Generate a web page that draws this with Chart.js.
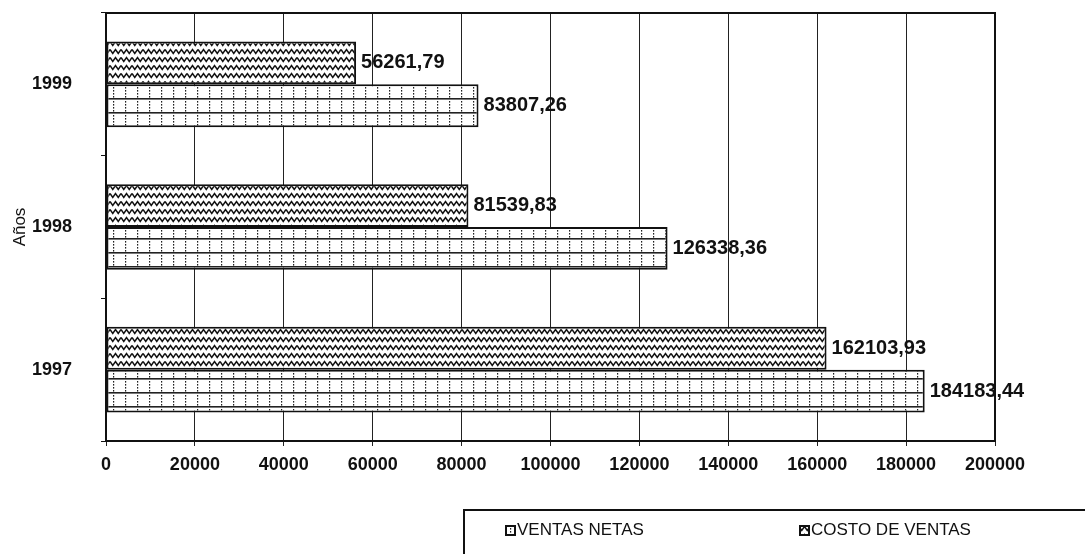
<!DOCTYPE html>
<html>
<head>
<meta charset="utf-8">
<script src="https://cdn.jsdelivr.net/npm/chart.js@4"></script>
<style>
  html, body { margin: 0; padding: 0; background: #fff; }
  #wrap { position: relative; width: 1085px; height: 554px; }
  #legend {
    position: absolute; left: 463px; top: 509px; width: 640px; height: 60px;
    border: 2px solid #111; box-sizing: border-box;
    font: 17px "Liberation Sans", Arial, sans-serif; color: #111;
  }
  #legend .item { position: absolute; top: 9px; display: flex; align-items: center; }
  #legend canvas { margin-right: 1px; }
</style>
</head>
<body>
<div id="wrap">
  <canvas id="chart" width="1085" height="554"></canvas>
  <div id="legend"></div>
</div>
<script>
// years, top to bottom
const years = ['1999', '1998', '1997'];
const ventasNetas = [83807.26, 126338.36, 184183.44];
const costoVentas = [56261.79, 81539.83, 162103.93];
const xTicks = [0, 20000, 40000, 60000, 80000, 100000, 120000, 140000, 160000, 180000, 200000];

// wavy fill for cost bars
function wavePattern(ctx) {
  const c = document.createElement('canvas');
  c.width = 11; c.height = 8;
  const g = c.getContext('2d');
  g.fillStyle = '#fff';
  g.fillRect(0, 0, 11, 8);
  g.strokeStyle = '#111';
  g.lineWidth = 1.5;
  g.beginPath();
  g.moveTo(0, 1.5);
  g.lineTo(2.75, 5.5);
  g.lineTo(5.5, 1.5);
  g.lineTo(8.25, 5.5);
  g.lineTo(11, 1.5);
  g.stroke();
  return ctx.createPattern(c, 'repeat');
}

// grid fill for net sales bars
function gridPattern(ctx) {
  const c = document.createElement('canvas');
  c.width = 12; c.height = 14;
  const g = c.getContext('2d');
  g.fillStyle = '#fff';
  g.fillRect(0, 0, 12, 14);
  g.fillStyle = '#222';
  g.fillRect(0, 0, 12, 1.6);
  for (let y = 3; y < 13; y += 3) g.fillRect(5, y, 1.2, 1.6);
  return ctx.createPattern(c, 'repeat');
}

const canvas = document.getElementById('chart');
const ctx = canvas.getContext('2d');
const fmt = v => v.toFixed(2).replace('.', ',');
const font = '"Liberation Sans", Arial, sans-serif';

// value labels at bar ends
const valueLabels = {
  id: 'valueLabels',
  afterDatasetsDraw(chart) {
    const c = chart.ctx;
    c.save();
    c.font = 'bold 20px ' + font;
    c.fillStyle = '#111';
    c.textBaseline = 'middle';
    chart.data.datasets.forEach((ds, i) => {
      chart.getDatasetMeta(i).data.forEach((bar, j) => {
        c.fillText(fmt(ds.data[j]), bar.x + 5, bar.y);
      });
    });
    c.restore();
  }
};

// box around the plot area
const frame = {
  id: 'frame',
  afterDraw(chart) {
    const a = chart.chartArea, c = chart.ctx;
    c.save();
    c.strokeStyle = '#111';
    c.lineWidth = 2;
    c.strokeRect(a.left, a.top, a.right - a.left, a.bottom - a.top);
    c.restore();
  }
};

const chart = new Chart(canvas, {
  type: 'bar',
  data: {
    labels: years,
    datasets: [
      { label: 'COSTO DE VENTAS', data: costoVentas, backgroundColor: wavePattern(ctx),
        borderColor: '#111', borderWidth: 2, borderSkipped: false },
      { label: 'VENTAS NETAS', data: ventasNetas, backgroundColor: gridPattern(ctx),
        borderColor: '#111', borderWidth: 2, borderSkipped: false }
    ]
  },
  options: {
    indexAxis: 'y',
    responsive: false,
    animation: false,
    categoryPercentage: 0.6,
    barPercentage: 1.0,
    layout: { padding: { left: 0, top: 13, right: 90, bottom: 73 } },
    plugins: { legend: { display: false }, tooltip: { enabled: false } },
    scales: {
      x: {
        min: 0, max: 200000,
        afterBuildTicks(axis) { axis.ticks = xTicks.map(v => ({ value: v })); },
        afterFit(axis) { axis.height = 40; },
        border: { color: '#111', width: 2 },
        grid: { color: '#222', lineWidth: 1, tickLength: 5, borderDash: [7, 2] },
        ticks: { color: '#111', padding: 8, maxRotation: 0,
          callback: v => String(v),
          font: { family: font, size: 18, weight: 'bold' } }
      },
      y: {
        afterFit(axis) {
          axis.width = 106;
          axis.paddingTop = 0;
          axis.paddingBottom = 0;
        },
        border: { color: '#111', width: 2 },
        grid: { drawOnChartArea: false, color: '#111', tickLength: 5, offset: true },
        ticks: { color: '#111', padding: 29,
          font: { family: font, size: 18, weight: 'bold' } },
        title: { display: true, text: 'Años', color: '#111', padding: { top: 10, bottom: 0 },
          font: { family: font, size: 17 } }
      }
    }
  },
  plugins: [valueLabels, frame]
});

// legend: net sales first, then cost
const legend = document.getElementById('legend');
[[1, 40], [0, 334]].forEach(([idx, left]) => {
  const ds = chart.data.datasets[idx];
  const item = document.createElement('div');
  item.className = 'item';
  item.style.left = left + 'px';
  const icon = document.createElement('canvas');
  icon.width = 11; icon.height = 11;
  const g = icon.getContext('2d');
  g.fillStyle = idx === 1 ? gridPattern(g) : wavePattern(g);
  g.fillRect(0, 0, 11, 11);
  g.strokeStyle = '#111'; g.lineWidth = 2;
  g.strokeRect(1, 1, 9, 9);
  item.appendChild(icon);
  item.appendChild(document.createTextNode(ds.label));
  legend.appendChild(item);
});
</script>
</body>
</html>
